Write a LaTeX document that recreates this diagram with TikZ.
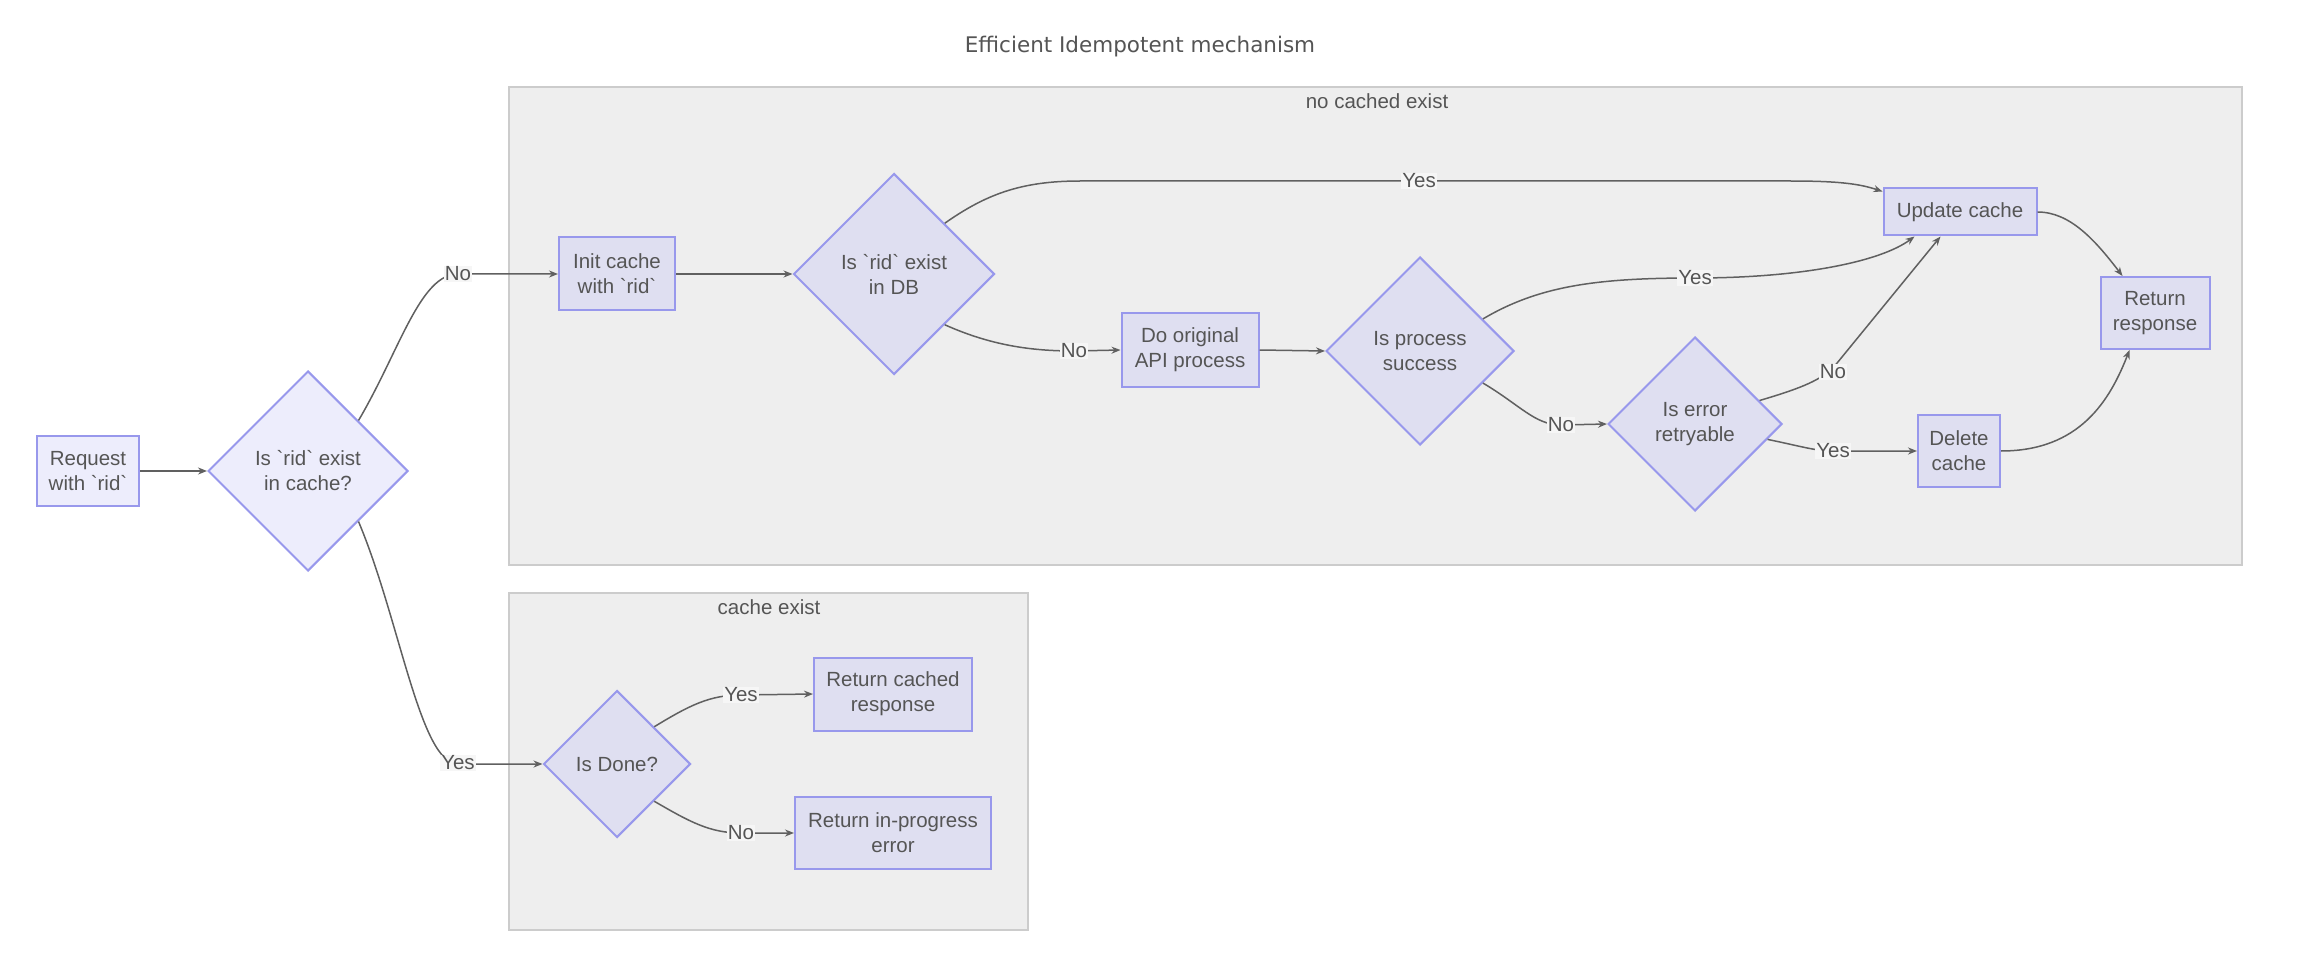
\documentclass[tikz,border=0pt]{standalone}
\usepackage{fontspec}
\setmainfont{Liberation Sans}
\newfontfamily\titlefont{DejaVu Sans}
\usetikzlibrary{shapes.geometric,arrows.meta}
\newcommand\bq{\textasciigrave}
\definecolor{nodestroke}{HTML}{9898EC}
\definecolor{nodefillout}{HTML}{EDEDFC}
\definecolor{nodefillin}{HTML}{DFDFF1}
\definecolor{clusterfill}{HTML}{EEEEEE}
\definecolor{clusterline}{HTML}{CCCCCC}
\definecolor{edgecol}{HTML}{606060}
\definecolor{txtcol}{HTML}{555555}
\definecolor{lblbg}{HTML}{F6F6F6}
\tikzset{
  basefont/.style={font=\fontsize{20.5}{25}\selectfont, text=txtcol, align=center},
  procbox/.style={basefont, rectangle, draw=nodestroke, line width=2pt, fill=nodefillin, inner sep=0pt},
  decbox/.style={basefont, diamond, draw=nodestroke, line width=2pt, fill=nodefillin, inner sep=0pt, aspect=1},
  outside/.style={fill=nodefillout},
  cluster/.style={draw=clusterline, fill=clusterfill, line width=2pt},
  clusterlabel/.style={basefont},
  edge/.style={draw=edgecol, line width=1.5pt, -{Stealth[length=9pt,width=7pt]}},
  elabel/.style={basefont, fill=lblbg, inner sep=1pt}
}
\begin{document}
\begin{tikzpicture}[x=1pt,y=-1pt]
\useasboundingbox[fill=white] (0,0) rectangle (2302,976);

% title
\node[font=\titlefont\fontsize{21.5}{26}\selectfont, text=txtcol] (title) at (1140,47) {Efficient Idempotent mechanism};

% clusters
\draw[cluster] (509,87) rectangle (2242,565);
\node[clusterlabel] (lblnocache) at (1377,101) {no cached exist};
\draw[cluster] (509,593) rectangle (1028,930);
\node[clusterlabel] (lblcache) at (769,607) {cache exist};

% nodes
\node[procbox, outside, minimum width=102pt, minimum height=70pt] (req) at (88,471) {Request\\with \bq rid\bq};
\node[decbox, outside, minimum width=200pt, minimum height=200pt] (c1) at (308,471) {Is \bq rid\bq{} exist\\in cache?};

\node[procbox, minimum width=116pt, minimum height=73pt] (init) at (617,274) {Init cache\\with \bq rid\bq};
\node[decbox, minimum width=201pt, minimum height=201pt] (db) at (894,274) {Is \bq rid\bq{} exist\\in DB};
\node[procbox, minimum width=137pt, minimum height=73pt] (doorig) at (1190,350) {Do original\\API process};
\node[decbox, minimum width=188pt, minimum height=188pt] (proc) at (1420,351) {Is process\\success};
\node[decbox, minimum width=174pt, minimum height=174pt] (retry) at (1695,424) {Is error\\retryable};
\node[procbox, minimum width=153pt, minimum height=47pt] (update) at (1960,212) {Update cache};
\node[procbox, minimum width=82pt, minimum height=72pt] (delete) at (1959,451) {Delete\\cache};
\node[procbox, minimum width=109pt, minimum height=72pt] (ret) at (2155,313) {Return\\response};

\node[decbox, minimum width=147pt, minimum height=147pt] (isdone) at (617,764) {Is Done?};
\node[procbox, minimum width=158pt, minimum height=73pt] (cached) at (893,694) {Return cached\\response};
\node[procbox, minimum width=196pt, minimum height=72pt] (inprog) at (893,833) {Return in-progress\\error};

% edges
\draw[edge] (req.east) -- (c1.west);
\draw[edge] (c1.north east) .. controls (400,350) and (420,274) .. (458,274) -- (init.west);
\node[elabel] (lno1) at (458,274) {No};
\draw[edge] (c1.south east) .. controls (400,620) and (420,764) .. (458,764) -- (isdone.west);
\node[elabel] (lyes1) at (458,763) {Yes};

\draw[edge] (init.east) -- (db.west);
\draw[edge] (db.north east) .. controls (985,195) and (1020,181) .. (1080,181) -- (1790,181) .. controls (1840,181) and (1860,184) .. ([yshift=-4pt]update.north west);
\node[elabel] (lyes2) at (1419,181) {Yes};
\draw[edge] (db.south east) .. controls (990,345) and (1030,351) .. (1074,351) -- (doorig.west);
\node[elabel] (lno2) at (1074,351) {No};

\draw[edge] (doorig.east) -- (proc.west);
\draw[edge] (proc.27) .. controls (1540,285) and (1600,278) .. (1695,278) .. controls (1800,278) and (1880,262) .. ([xshift=32pt]update.south west);
\node[elabel] (lyes3) at (1695,278) {Yes};
\draw[edge] (proc.-27) .. controls (1520,405) and (1535,425) .. (1561,425) -- (retry.west);
\node[elabel] (lno3) at (1561,425) {No};

\draw[edge] (retry.20) .. controls (1795,390) and (1818,382) .. (1833,368) -- ([xshift=58pt]update.south west);
\node[elabel] (lno4) at (1833,372) {No};
\draw[edge] (retry.-12) .. controls (1800,446) and (1815,451) .. (1833,451) -- (delete.west);
\node[elabel] (lyes4) at (1833,451) {Yes};

\draw[edge] (update.east) .. controls (2070,212) and (2095,240) .. ([xshift=23pt]ret.north west);
\draw[edge] (delete.east) .. controls (2080,451) and (2110,400) .. ([xshift=30pt]ret.south west);

\draw[edge] (isdone.north east) .. controls (690,705) and (710,695) .. (741,695) -- (cached.west);
\node[elabel] (lyes5) at (741,695) {Yes};
\draw[edge] (isdone.south east) .. controls (690,822) and (710,833) .. (741,833) -- (inprog.west);
\node[elabel] (lno5) at (741,833) {No};
\end{tikzpicture}
\end{document}
